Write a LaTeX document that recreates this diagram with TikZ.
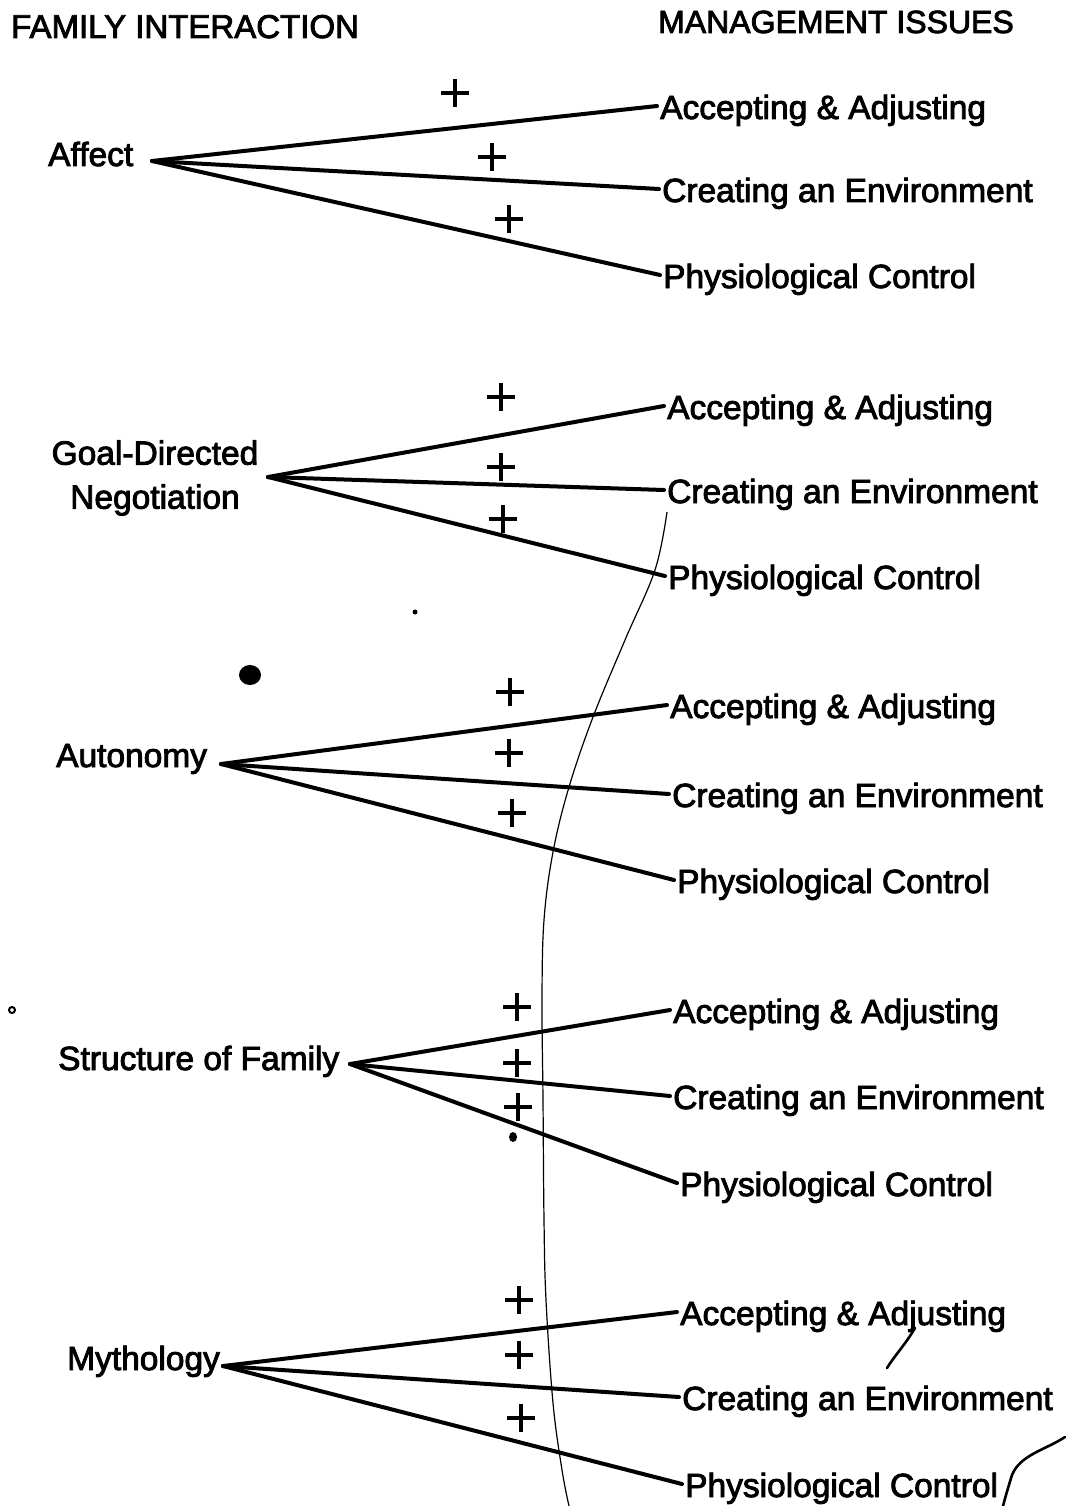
\documentclass[tikz,border=0pt]{standalone}
\usepackage{fontspec}
\setmainfont{Liberation Sans}
\newfontfamily\scanfont{Liberation Sans}[FakeBold=2.6]
\begin{document}
\begin{tikzpicture}[x=1pt,y=-1pt,
  lbl/.style={inner sep=0pt, anchor=base west, font=\scanfont\fontsize{33.5}{44}\selectfont},
  hdr/.style={inner sep=0pt, anchor=base west, font=\scanfont\fontsize{32}{38}\selectfont},
  conn/.style={line width=4pt, line cap=round},
  plussign/.style={minimum size=27pt, inner sep=0pt},
  pl/.style={line width=3.2pt},
  fine/.style={line width=1.2pt},
  handmark/.style={line width=2.6pt, line cap=round}]
\useasboundingbox[fill=white] (0,0) rectangle (1065,1506);

% headers
\node[hdr, font=\scanfont\fontsize{33}{38}\selectfont] (fi) at (11,38) {FAMILY INTERACTION};
\node[hdr] (mi) at (658,33) {MANAGEMENT ISSUES};

% left labels
\node[lbl] (affect) at (48,166) {Affect};
\node[lbl, anchor=center, align=center] (goal) at (155,478) {Goal-Directed\\Negotiation};
\node[lbl] (auto) at (56,767) {Autonomy};
\node[lbl] (struct) at (58,1070) {Structure of Family};
\node[lbl] (myth) at (67,1370) {Mythology};

% convergence points
\coordinate (o1) at (152,161);
\coordinate (o2) at (268,477);
\coordinate (o3) at (221,764);
\coordinate (o4) at (350,1064);
\coordinate (o5) at (223,1366);

% right labels
\node[lbl] (a1) at (660,119) {Accepting \& Adjusting};
\node[lbl] (c1) at (662,202) {Creating an Environment};
\node[lbl] (p1) at (663,288) {Physiological Control};
\node[lbl] (a2) at (667,419) {Accepting \& Adjusting};
\node[lbl] (c2) at (667,503) {Creating an Environment};
\node[lbl] (p2) at (668,589) {Physiological Control};
\node[lbl] (a3) at (670,718) {Accepting \& Adjusting};
\node[lbl] (c3) at (672,807) {Creating an Environment};
\node[lbl] (p3) at (677,893) {Physiological Control};
\node[lbl] (a4) at (673,1023) {Accepting \& Adjusting};
\node[lbl] (c4) at (673,1109) {Creating an Environment};
\node[lbl] (p4) at (680,1196) {Physiological Control};
\node[lbl] (a5) at (680,1325) {Accepting \& Adjusting};
\node[lbl] (c5) at (682,1410) {Creating an Environment};
\node[lbl] (p5) at (685,1497) {Physiological Control};

% connectors
\foreach \g in {1,...,5}{
  \draw[conn] (o\g) -- ([shift={(-3pt,13pt)}]a\g.base west);
  \draw[conn] (o\g) -- ([shift={(-3pt,13pt)}]c\g.base west);
  \draw[conn] (o\g) -- ([shift={(-3pt,13pt)}]p\g.base west);
}

% plus signs
\node[plussign] (s11) at (455,93) {};
\node[plussign] (s12) at (492,157) {};
\node[plussign] (s13) at (509,219) {};
\node[plussign] (s21) at (501,397) {};
\node[plussign] (s22) at (501,467) {};
\node[plussign] (s23) at (503,519) {};
\node[plussign] (s31) at (510,692) {};
\node[plussign] (s32) at (509,753) {};
\node[plussign] (s33) at (512,813) {};
\node[plussign] (s41) at (517,1007) {};
\node[plussign] (s42) at (517,1063) {};
\node[plussign] (s43) at (518,1107) {};
\node[plussign] (s51) at (519,1300) {};
\node[plussign] (s52) at (519,1355) {};
\node[plussign] (s53) at (521,1418) {};
\foreach \s in {s11,s12,s13,s21,s22,s23,s31,s32,s33,s41,s42,s43,s51,s52,s53}{
  \draw[pl] (\s.north) -- (\s.south) (\s.west) -- (\s.east);
}

% hand-drawn marks
\draw[fine] plot[smooth, tension=0.6] coordinates {(667,512) (655,570) (625,640) (593,717) (569,787) (553,852) (544,920) (542,1000) (543,1100) (544,1220) (546,1300) (553,1403) (562,1470) (569,1506)};
\draw[handmark] (915,1328) .. controls (905,1345) and (895,1355) .. (887,1368);
\draw[handmark] (1065,1437) .. controls (1045,1450) and (1020,1455) .. (1012,1475) .. controls (1008,1488) and (1005,1498) .. (1003,1506);

% specks
\fill (250,675) ellipse [x radius=11pt, y radius=10pt];
\fill (513,1137) ellipse [x radius=4pt, y radius=5pt];
\fill (415,612) circle [radius=2.5pt];
\draw[line width=2pt] (12,1010) circle [radius=3pt];
\end{tikzpicture}
\end{document}
